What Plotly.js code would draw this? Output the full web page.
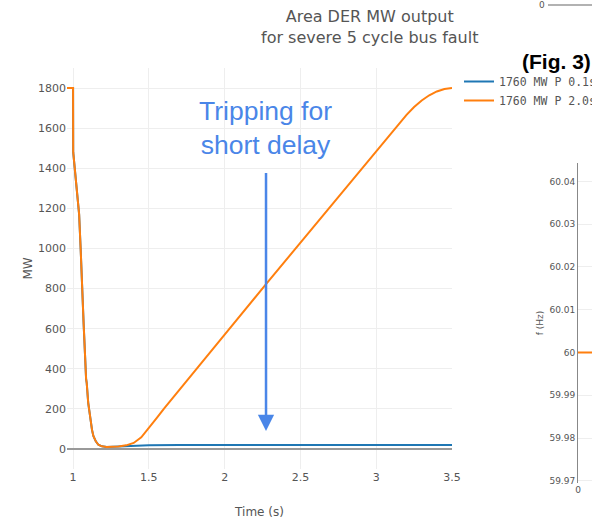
<!DOCTYPE html>
<html>
<head>
<meta charset="utf-8">
<script src="https://cdn.plot.ly/plotly-3.0.1.min.js"></script>
<style>html,body{margin:0;padding:0;background:#fff;overflow:hidden;width:592px;height:521px;}#chart{width:680px;height:521px;}</style>
</head>
<body>
<div id="chart"></div>
<script>
// ---- Data ----
const seriesNames = ["1760 MW P 0.1s", "1760 MW P 2.0s"];

const timeFast = [0.96, 1.0, 1.001, 1.02, 1.04, 1.05, 1.057, 1.07, 1.086, 1.09, 1.10, 1.112, 1.125, 1.134, 1.15, 1.167, 1.19, 1.222, 1.26, 1.3, 1.4, 1.5, 1.7, 2.0, 2.5, 3.0, 3.5];
const mwFast   = [1800, 1800, 1480, 1330, 1170, 1000, 840, 620, 350, 330, 230, 150, 95, 65, 38, 21, 13, 10, 11, 13, 16, 18, 19.5, 20, 20, 20, 20];

const timeSlow = [0.96, 1.0, 1.001, 1.02, 1.04, 1.05, 1.057, 1.07, 1.086, 1.09, 1.10, 1.112, 1.125, 1.134, 1.15, 1.167, 1.19, 1.222, 1.26, 1.30, 1.35, 1.40, 1.45, 1.50, 1.55, 1.60, 1.706, 2.0, 2.273, 2.5, 2.75, 3.025, 3.15, 3.2, 3.25, 3.3, 3.35, 3.4, 3.45, 3.5];
const mwSlow   = [1800, 1800, 1480, 1330, 1170, 1000, 840, 620, 350, 330, 230, 150, 95, 65, 38, 21, 13, 10, 10, 12, 18, 30, 58, 103, 152, 201, 300, 570, 822, 1030, 1258, 1510, 1623, 1666, 1705, 1738, 1764, 1783, 1795, 1800];

// fragment of neighbouring figure (frequency)
const freqTime = [0, 20];
const freqHz   = [60, 60];
const freqTicks = [59.97, 59.98, 59.99, 60, 60.01, 60.02, 60.03, 60.04];

const xTicks = [1, 1.5, 2, 2.5, 3, 3.5];
const yTicks = [0, 200, 400, 600, 800, 1000, 1200, 1400, 1600, 1800];

// The figure is wider than the 592px window; the window crops it like the reference.
const W = 680, H = 521;
const px = v => v / W;
const py = v => 1 - v / H;
const FONT = '"DejaVu Sans", Verdana, sans-serif';
const BLUE_NOTE = '#4a86e8';

const traces = [
  {x: timeFast, y: mwFast, name: seriesNames[0], type: 'scatter', mode: 'lines',
   line: {color: '#1f77b4', width: 2}, xaxis: 'x', yaxis: 'y'},
  {x: timeSlow, y: mwSlow, name: seriesNames[1], type: 'scatter', mode: 'lines',
   line: {color: '#ff7f0e', width: 2}, xaxis: 'x', yaxis: 'y'},
  {x: freqTime, y: freqHz, type: 'scatter', mode: 'lines', showlegend: false,
   line: {color: '#ff7f0e', width: 2}, xaxis: 'x2', yaxis: 'y2', hoverinfo: 'skip'}
];

const layout = {
  width: W, height: H,
  margin: {l: 0, r: 0, t: 0, b: 0, pad: 0},
  paper_bgcolor: '#fff', plot_bgcolor: '#fff',
  font: {family: FONT, size: 11, color: '#555'},
  xaxis: {
    domain: [px(67), px(452)], range: [0.96, 3.5], anchor: 'y',
    tickvals: xTicks, ticktext: xTicks.map(String),
    showgrid: true, gridcolor: '#eee', zeroline: false, showline: false,
    ticks: '', automargin: false,
    title: {text: 'Time (s)', font: {size: 12, color: '#555'}, standoff: 24}
  },
  yaxis: {
    domain: [py(469), py(68)], range: [-100, 1900], anchor: 'x',
    tickvals: yTicks, ticktext: yTicks.map(String),
    showgrid: true, gridcolor: '#eee',
    zeroline: true, zerolinecolor: '#999', zerolinewidth: 2,
    showline: false, ticks: '', automargin: false,
    title: {text: 'MW', font: {size: 12, color: '#555'}, standoff: 2}
  },
  xaxis2: {
    domain: [px(578), 1], range: [0, 20], anchor: 'y2',
    tickvals: [0], ticktext: ['0'], showgrid: false, zeroline: false,
    showline: false, ticks: '', automargin: false,
    tickfont: {size: 9, color: '#555'}
  },
  yaxis2: {
    domain: [py(483), py(163)], range: [59.9695, 60.0443], anchor: 'x2',
    tickvals: freqTicks, ticktext: freqTicks.map(v => String(+v.toFixed(2))),
    showgrid: true, gridcolor: '#eee', zeroline: false,
    showline: true, linecolor: '#888', linewidth: 1,
    ticks: '', automargin: false,
    tickfont: {size: 9, color: '#555'},
    title: {text: 'f (Hz)', font: {size: 9, color: '#555'}, standoff: 4}
  },
  legend: {
    x: px(459), xanchor: 'left', y: py(67), yanchor: 'top',
    bgcolor: 'rgba(0,0,0,0)', borderwidth: 0,
    font: {family: '"DejaVu Sans Mono", monospace', size: 11.5, color: '#555'},
    tracegroupgap: 0
  },
  annotations: [
    {text: 'Area DER MW output<br>for severe 5 cycle bus fault', xref: 'paper', yref: 'paper',
     x: px(369), y: py(5), xanchor: 'center', yanchor: 'top', showarrow: false, align: 'center',
     font: {family: FONT, size: 16, color: '#555'}},
    {text: 'Tripping for<br>short delay', xref: 'x', yref: 'y', x: 2.27, y: 1600,
     showarrow: false, font: {family: '"Liberation Sans", Arial, sans-serif', size: 26.5, color: BLUE_NOTE},
     align: 'center', xanchor: 'center', yanchor: 'middle'},
    {text: '', xref: 'x', yref: 'y', x: 2.273, y: 90, axref: 'x', ayref: 'y', ax: 2.273, ay: 1384,
     showarrow: true, arrowhead: 2, arrowsize: 1.3, arrowwidth: 2.5, arrowcolor: BLUE_NOTE},
    {text: '<b>(Fig. 3)</b>', xref: 'paper', yref: 'paper', x: px(593), y: py(61),
     xanchor: 'right', yanchor: 'middle', showarrow: false,
     font: {family: '"Liberation Sans", Arial, sans-serif', size: 21, color: '#000'}},
    {text: '0', xref: 'paper', yref: 'paper', x: px(547), y: py(5), xanchor: 'right', yanchor: 'middle',
     showarrow: false, font: {size: 9, color: '#555'}}
  ],
  shapes: [
    {type: 'line', xref: 'paper', yref: 'paper', x0: px(548), x1: 1, y0: py(5), y1: py(5),
     line: {color: '#999', width: 1.5}}
  ]
};

Plotly.newPlot('chart', traces, layout, {displayModeBar: false, staticPlot: true});
</script>
</body>
</html>
